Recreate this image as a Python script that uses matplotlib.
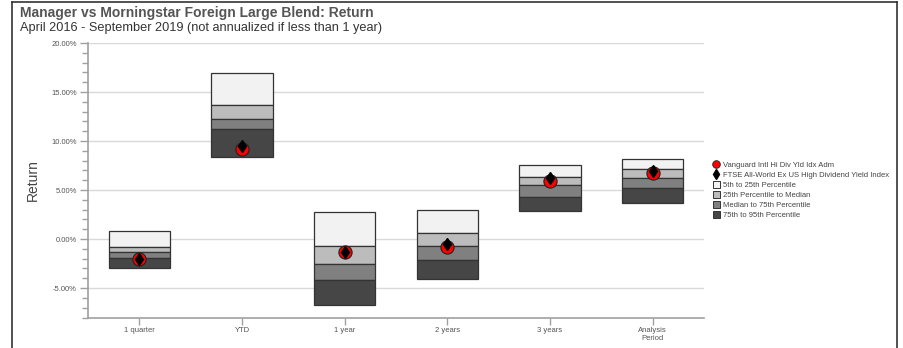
import matplotlib
matplotlib.use("Agg")
import matplotlib.pyplot as plt
from matplotlib.lines import Line2D
from matplotlib.patches import Patch
from matplotlib.ticker import MultipleLocator, FuncFormatter

plt.rcParams['font.family'] = ['Liberation Sans', 'DejaVu Sans']

categories = ["1 quarter", "YTD", "1 year", "2 years", "3 years", "Analysis\nPeriod"]
p5 = [0.80, 16.90, 2.75, 3.00, 7.58, 8.15]
p25 = [-0.78, 13.65, -0.70, 0.58, 6.36, 7.10]
p50 = [-1.35, 12.20, -2.55, -0.75, 5.48, 6.18]
p75 = [-1.97, 11.20, -4.20, -2.10, 4.26, 5.17]
p95 = [-3.00, 8.37, -6.70, -4.08, 2.86, 3.64]
fund = [-2.04, 9.20, -1.36, -0.78, 5.92, 6.70]
index = [-2.00, 9.45, -1.36, -0.55, 6.28, 6.97]

band_colors = ["#f2f2f2", "#bcbcbc", "#808080", "#464646"]
band_labels = ["5th to 25th Percentile", "25th Percentile to Median",
               "Median to 75th Percentile", "75th to 95th Percentile"]

fig = plt.figure(figsize=(9.04, 3.48), dpi=100)
ax = fig.add_axes([88 / 904, 1 - 317.5 / 348, (704 - 88) / 904, (317.5 - 43) / 348])

x = list(range(len(categories)))
width = 0.6
tops = [p5, p25, p50, p75]
bottoms = [p25, p50, p75, p95]
for t, b, c in zip(tops, bottoms, band_colors):
    heights = [ti - bi for ti, bi in zip(t, b)]
    ax.bar(x, heights, bottom=b, width=width, color=c, edgecolor="#333333",
           linewidth=0.9, zorder=3)

ax.plot(x, fund, linestyle="none", marker="o", markersize=9.5,
        markerfacecolor="#ff0000", markeredgecolor="#222222",
        markeredgewidth=0.8, zorder=5)
ax.plot(x, index, linestyle="none", marker="d", markersize=6,
        markerfacecolor="black", markeredgecolor="black", zorder=6)

ax.set_xlim(-0.5, 5.5)
ax.set_ylim(-8, 20)
ax.yaxis.set_major_locator(MultipleLocator(5))
ax.yaxis.set_minor_locator(MultipleLocator(1))
ax.yaxis.set_major_formatter(FuncFormatter(lambda v, p: f"{v:.2f}%"))
ax.set_xticks(x)
ax.set_xticklabels(categories)
ax.grid(axis="y", which="major", color="#d9d9d9", linewidth=1, zorder=0)
ax.set_axisbelow(True)

for s in ["top", "right"]:
    ax.spines[s].set_visible(False)
for s in ["left", "bottom"]:
    ax.spines[s].set_color("#a0a0a0")
    ax.spines[s].set_linewidth(1.2)
ax.tick_params(axis="both", which="both", colors="#a0a0a0", labelcolor="#555555",
               labelsize=5.5, direction="out")
ax.tick_params(axis="y", which="major", length=6, width=1, pad=2)
ax.tick_params(axis="y", which="minor", length=4, width=1)
ax.tick_params(axis="x", length=5, width=1, pad=2)

ax.set_ylabel("Return", fontsize=10, color="#444444")
ax.yaxis.set_label_coords((40 - 88) / 616, 0.5)

fig.text(20 / 904, 1 - 13 / 348, "Manager vs Morningstar Foreign Large Blend: Return",
         fontsize=10, fontweight="bold", color="#555555", va="center", ha="left")
fig.text(20 / 904, 1 - 28.5 / 348,
         "April 2016 - September 2019 (not annualized if less than 1 year)",
         fontsize=9.2, color="#333333", va="center", ha="left")

handles = [
    Line2D([], [], linestyle="none", marker="o", markersize=5.5,
           markerfacecolor="#ff0000", markeredgecolor="#222222", markeredgewidth=0.6),
    Line2D([], [], linestyle="none", marker="d", markersize=5,
           markerfacecolor="black", markeredgecolor="black"),
]
handles += [Patch(facecolor=c, edgecolor="#333333", linewidth=0.7) for c in band_colors]
labels = ["Vanguard Intl Hi Div Yld Idx Adm",
          "FTSE All-World Ex US High Dividend Yield Index"] + band_labels
fig.legend(handles, labels, loc="upper left", bbox_to_anchor=(713 / 904, 1 - 161 / 348),
           frameon=False, fontsize=5.5, labelcolor="#444444", handlelength=0.9,
           handleheight=0.9, handletextpad=0.4, labelspacing=0.3, borderpad=0,
           borderaxespad=0)

# outer frame lines
fig.add_artist(Line2D([12 / 904, 12 / 904], [0, 1 - 1.5 / 348], color="#333333", linewidth=1.2))
fig.add_artist(Line2D([12 / 904, 897.5 / 904], [1 - 1.5 / 348, 1 - 1.5 / 348], color="#333333", linewidth=1.2))
fig.add_artist(Line2D([897.5 / 904, 897.5 / 904], [0, 1 - 1.5 / 348], color="#333333", linewidth=1.2))

fig.savefig("out.png", dpi=100)
